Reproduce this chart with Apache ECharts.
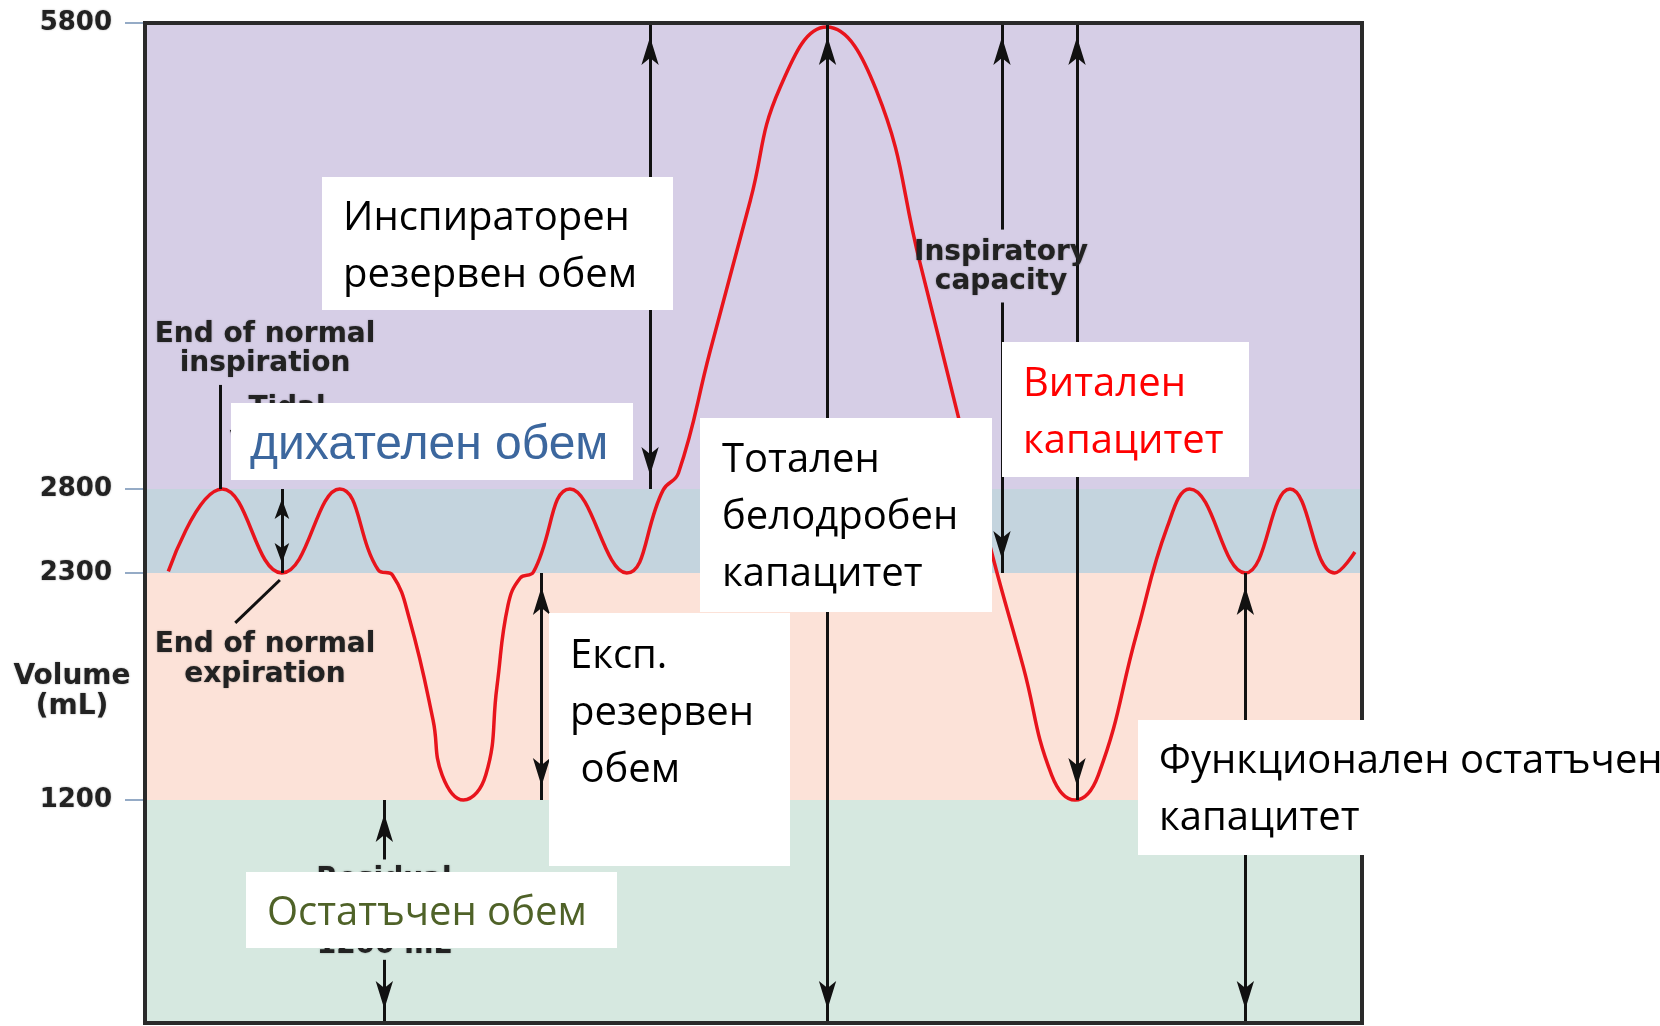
<!DOCTYPE html>
<html>
<head>
<meta charset="utf-8">
<title>Белодробни обеми и капацитети</title>
<script src="https://cdn.jsdelivr.net/npm/echarts@6/dist/echarts.min.js"></script>
<style>
  html, body { margin: 0; padding: 0; background: #fff; }
  #chart { width: 1660px; height: 1026px; }
</style>
</head>
<body>
<div id="chart"></div>
<script>
// volume levels labelled on the y axis (mL)
const volumeTicks = [1200, 2300, 2800, 5800]

// spirogram trace: time (s) and volume (mL)
const traceTime = [2.3, 7.6, 13.5, 19.2, 23.0, 24.4, 26.1, 28.4, 29.3, 31.4, 33.6, 34.7, 35.8, 37.0, 38.3,
  41.9, 47.5, 51.1, 52.6, 55.7, 59.7, 62.6, 67.2, 72.1, 76.4, 80.2, 83.6,
  86.6, 89.4, 91.7, 94.0, 97.8, 100.8, 103.0, 108.5, 112.9, 117.3, 119.3]
const traceVolume = [2310, 2800, 2300, 2800, 2318, 2290, 2072, 1588, 1321, 1200, 1321, 1748, 2145, 2276, 2306,
  2800, 2300, 2795, 2903, 3682, 4661, 5382, 5774, 5369, 4261, 3264, 2395,
  1845, 1321, 1200, 1321, 2009, 2574, 2800, 2300, 2800, 2300, 2425]

// shaded bands (mL)
const bandFrom = [0, 1200, 2300, 2800]
const bandTo = [1200, 2300, 2800, 5800]

// measurement arrows: time, start volume, end volume, which ends carry a head
const arrowTime = [13.5, 49.8, 67.3, 84.5, 84.5, 91.9, 39.1, 23.6, 23.6, 108.5]
const arrowFrom = [2300, 2800, 0, 4470, 2300, 1200, 1200, 880, 0, 0]
const arrowTo = [2800, 5800, 5800, 5800, 4000, 5800, 2300, 1200, 340, 2300]
const arrowHeads = ['both', 'both', 'both', 'to', 'from', 'both', 'both', 'to', 'from', 'both']

// pointer lines for "end of normal inspiration / expiration"
const pointerTime = [[7.4, 7.4], [8.9, 13.3]]
const pointerVolume = [[3470, 2800], [2058, 2266]]

// the figure is a schematic: each band has its own height, not to scale
const scaleVolumes = [0, 1200, 2300, 2800, 5800]
const scaleHeights = [0, 223, 450, 534, 1000]

const bandColors = ['#d6e8e0', '#fce2d8', '#c4d4de', '#d6cee6']

function toAxis(v) {
  for (let i = 1; i < scaleVolumes.length; i++) {
    if (v <= scaleVolumes[i] || i === scaleVolumes.length - 1) {
      const f = (v - scaleVolumes[i - 1]) / (scaleVolumes[i] - scaleVolumes[i - 1])
      return scaleHeights[i - 1] + f * (scaleHeights[i] - scaleHeights[i - 1])
    }
  }
  return v
}

function tickLabel(val) {
  const v = volumeTicks.find(t => Math.abs(toAxis(t) - val) < 0.5)
  return v === undefined ? '' : String(v)
}

const bigHead = [13, 28]
const smallHead = [11, 20]

const markLines = arrowTime.map((t, i) => {
  const head = arrowHeads[i]
  const size = i === 0 ? smallHead : bigHead
  return [
    { coord: [t, toAxis(arrowFrom[i])], symbol: head !== 'to' ? 'arrow' : 'none', symbolSize: size },
    { coord: [t, toAxis(arrowTo[i])], symbol: head !== 'from' ? 'arrow' : 'none', symbolSize: size }
  ]
}).concat(pointerTime.map((ts, i) => [
  { coord: [ts[0], toAxis(pointerVolume[i][0])], symbol: 'none' },
  { coord: [ts[1], toAxis(pointerVolume[i][1])], symbol: 'none' }
]))

function note(text, x, y, lineHeight) {
  return {
    type: 'text', z: 40, x, y, silent: true,
    style: {
      text, fill: '#222', font: 'bold 28px "DejaVu Sans"',
      align: 'center', verticalAlign: 'middle', lineHeight,
      textShadowColor: 'rgba(0,0,0,0.35)', textShadowBlur: 2
    }
  }
}

// white label boxes pasted over the figure
function box(o) {
  const size = o.size || 40
  const family = o.family || '"Open Sans"'
  const lh = o.lineHeight || 57
  const mid = o.midRatio || 0.29
  return [
    { type: 'rect', z: 50, silent: true, shape: { x: o.x, y: o.y, width: o.w, height: o.h }, style: { fill: '#fff' } },
    {
      type: 'text', z: 51, silent: true, x: o.tx, y: o.baseline - lh / 2 - mid * size,
      style: { text: o.lines.join('\n'), fill: o.color || '#000', font: `${size}px ${family}`, lineHeight: lh, verticalAlign: 'top' }
    }
  ]
}

const graphics = [
  { type: 'rect', z: 30, silent: true, shape: { x: 145, y: 23, width: 1217, height: 1000 },
    style: { fill: 'none', stroke: '#2a2a2a', lineWidth: 4 } },
  note('Volume\n(mL)', 72, 692, 30),
  note('End of normal\ninspiration', 265, 349, 29),
  note('End of normal\nexpiration', 265, 660, 30),
  note('Tidal\nvolume', 287, 424, 30),
  note('Inspiratory\ncapacity', 1001, 267, 29),
  note('Residual\nvolume\n1200 mL', 384, 913, 33),
  ...box({ x: 322, y: 177, w: 351, h: 133, tx: 343, baseline: 230, lines: ['Инспираторен', 'резервен обем'] }),
  ...box({ x: 231, y: 403, w: 402, h: 77, tx: 250, baseline: 458, lines: ['дихателен обем'],
    size: 48, family: '"Liberation Sans"', midRatio: 0.265, color: '#3c679e', lineHeight: 60 }),
  ...box({ x: 700, y: 418, w: 292, h: 194, tx: 722, baseline: 472, lines: ['Тотален', 'белодробен', 'капацитет'] }),
  ...box({ x: 1002, y: 342, w: 247, h: 135, tx: 1023, baseline: 396, lines: ['Витален', 'капацитет'], color: '#ff0000' }),
  ...box({ x: 549, y: 613, w: 241, h: 253, tx: 570, baseline: 668, lines: ['Експ.', 'резервен', ' обем'] }),
  ...box({ x: 1138, y: 720, w: 540, h: 135, tx: 1159, baseline: 773, lines: ['Функционален остатъчен', 'капацитет'] }),
  ...box({ x: 246, y: 872, w: 371, h: 76, tx: 267, baseline: 925, lines: ['Остатъчен обем'], color: '#4f6228' })
]

const chart = echarts.init(document.getElementById('chart'))

chart.setOption({
  animation: false,
  grid: { left: 145, right: 298, top: 23, bottom: 3 },
  xAxis: {
    type: 'value', min: 0, max: 120,
    axisLine: { show: false }, axisTick: { show: false }, axisLabel: { show: false }, splitLine: { show: false }
  },
  yAxis: {
    type: 'value', min: 0, max: 1000,
    axisLine: { show: false },
    splitLine: { show: false },
    axisTick: {
      show: true, length: 20, customValues: volumeTicks.map(toAxis),
      lineStyle: { color: '#95abc6', width: 2 }
    },
    axisLabel: {
      customValues: volumeTicks.map(toAxis),
      formatter: tickLabel,
      margin: 33,
      fontFamily: 'DejaVu Sans', fontWeight: 'bold', fontSize: 26, color: '#222',
      textShadowColor: 'rgba(0,0,0,0.35)', textShadowBlur: 2
    }
  },
  series: [{
    type: 'line',
    data: traceTime.map((t, i) => [t, toAxis(traceVolume[i])]),
    smooth: 0.45,
    showSymbol: false,
    silent: true,
    z: 3,
    lineStyle: { color: '#e8141c', width: 3.5 },
    markArea: {
      silent: true,
      data: bandFrom.map((v, i) => [
        { yAxis: toAxis(v), itemStyle: { color: bandColors[i], opacity: 1 } },
        { yAxis: toAxis(bandTo[i]) }
      ])
    },
    markLine: {
      silent: true,
      symbolOffset: [[0, '50%'], [0, '50%']],
      label: { show: false },
      lineStyle: { color: '#111', width: 3, type: 'solid' },
      emphasis: { disabled: true },
      data: markLines
    }
  }],
  graphic: graphics
})

window.addEventListener('resize', () => chart.resize())
</script>
</body>
</html>
